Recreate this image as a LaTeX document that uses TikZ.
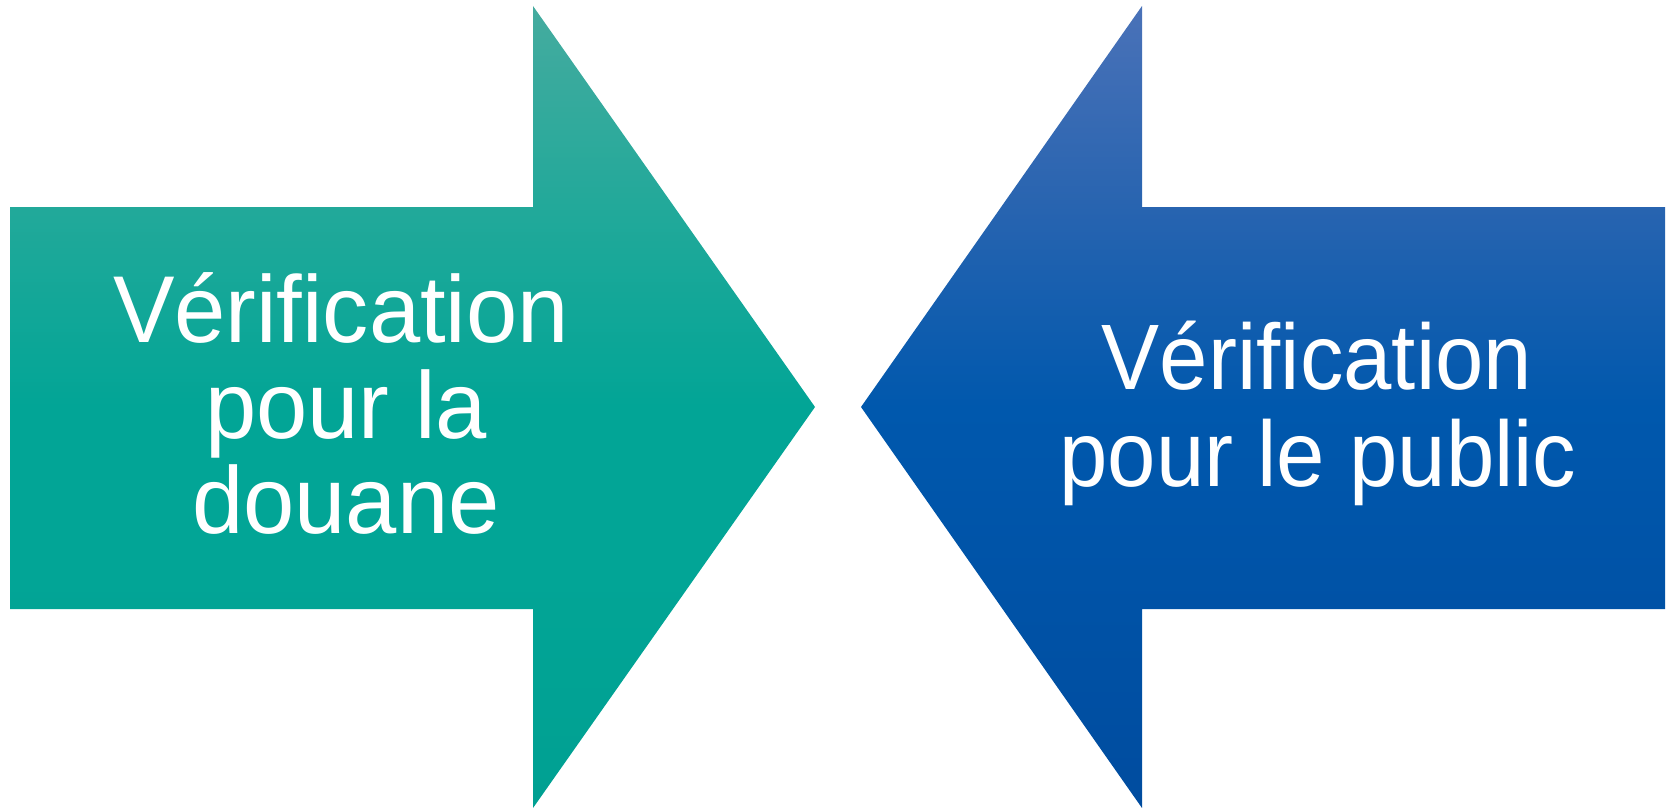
\documentclass[tikz,border=0pt]{standalone}
\usepackage{fontspec}
\setmainfont{Liberation Sans}
\newfontfamily\leftfont[FakeStretch=0.97]{Liberation Sans}
\newfontfamily\rightfont[FakeStretch=0.935]{Liberation Sans}
\definecolor{tealtop}{HTML}{45AB9F}
\definecolor{tealup}{HTML}{22A99A}
\definecolor{tealmid}{HTML}{02A596}
\definecolor{tealbot}{HTML}{00A092}
\definecolor{bluetop}{HTML}{4A72B8}
\definecolor{blueup}{HTML}{2864B0}
\definecolor{bluemid}{HTML}{0058AD}
\definecolor{bluebot}{HTML}{004C9F}
\pgfdeclareverticalshading{tealshade}{100bp}{color(0bp)=(tealbot); color(25bp)=(tealbot); color(40bp)=(tealmid); color(50bp)=(tealmid); color(62.5bp)=(tealup); color(75bp)=(tealtop); color(100bp)=(tealtop)}
\pgfdeclareverticalshading{blueshade}{100bp}{color(0bp)=(bluebot); color(25bp)=(bluebot); color(50bp)=(bluemid); color(62.5bp)=(blueup); color(75bp)=(bluetop); color(100bp)=(bluetop)}
\tikzset{
  lefttxt/.style={anchor=base, text=white, inner sep=0pt, font=\leftfont\fontsize{95}{95}\selectfont},
  righttxt/.style={anchor=base, text=white, inner sep=0pt, font=\rightfont\fontsize{93}{93}\selectfont},
}
\begin{document}
\begin{tikzpicture}[x=1pt,y=-1pt]
\useasboundingbox (0,0) rectangle (1667,808);
% left arrow
\shade[shading=tealshade]
  (10,207) -- (533,207) -- (533,6) -- (815,407) -- (533,808) -- (533,609) -- (10,609) -- cycle;
% right arrow
\shade[shading=blueshade]
  (1665,207) -- (1142,207) -- (1142,6) -- (861,407) -- (1142,808) -- (1142,609) -- (1665,609) -- cycle;
% texts
\node[lefttxt] (l1) at (341,342) {Vérification};
\node[lefttxt] (l2) at (346,438) {pour la};
\node[lefttxt] (l3) at (346,533) {douane};
\node[righttxt] (r1) at (1317,389) {Vérification};
\node[righttxt] (r2) at (1318,486) {pour le public};
\end{tikzpicture}
\end{document}
